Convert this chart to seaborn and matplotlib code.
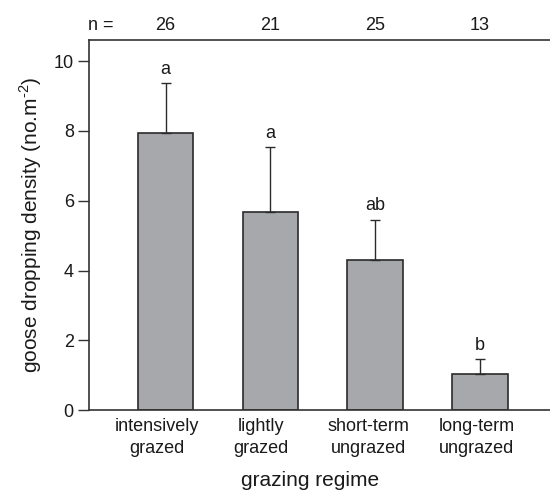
import numpy as np
import pandas as pd
import matplotlib
matplotlib.use("Agg")
import matplotlib.pyplot as plt
import matplotlib.transforms as mtransforms
import seaborn as sns

# values
regimes = ["intensively\ngrazed", "lightly\ngrazed", "short-term\nungrazed", "long-term\nungrazed"]
density = [7.95, 5.69, 4.31, 1.03]
err_top = [9.38, 7.53, 5.46, 1.46]
letters = ["a", "a", "ab", "b"]
n_obs = [26, 21, 25, 13]

sns.set_style("ticks")
plt.rcParams['font.family'] = ['Liberation Sans', 'DejaVu Sans']
plt.rcParams['mathtext.fontset'] = 'custom'
plt.rcParams['mathtext.rm'] = 'Liberation Sans'

df = pd.DataFrame({"regime": regimes, "density": density})
err = np.array(err_top) - np.array(density)
txt = "#1a1a1a"

fig = plt.figure(figsize=(5.5, 4.9), dpi=100)
ax = fig.add_axes([0.162, 0.163, 0.838, 0.755])

sns.barplot(data=df, x="regime", y="density", color="#a7a8ab", saturation=1,
            width=0.53, edgecolor="#2b2b2b", linewidth=1.2, errorbar=None, ax=ax)
ax.errorbar(range(len(density)), density, yerr=[np.zeros(len(err)), err],
            fmt="none", ecolor="#2b2b2b", elinewidth=1.0, capsize=3.3, capthick=1.0,
            zorder=1)

for i, (t, l) in enumerate(zip(err_top, letters)):
    ax.text(i, t + 0.15, l, ha="center", va="bottom", fontsize=13, color=txt)

trans = mtransforms.blended_transform_factory(ax.transData, ax.transAxes)
for i, n in enumerate(n_obs):
    ax.text(i, 1.017, str(n), transform=trans, ha="center", va="bottom",
            fontsize=13, color=txt)
ax.text(-0.615, 1.017, "n =", transform=trans, ha="center", va="bottom",
        fontsize=13, color=txt)

# category labels in the original sit a little left of the bars
ax.set_xticks(np.arange(4) + np.array([-0.08, -0.09, -0.06, -0.03]), regimes)
for lab in ax.get_xticklabels():
    lab.set_linespacing(1.35)
ax.set_xlim(-0.73, 3.67)
ax.set_ylim(0, 10.6)
ax.set_yticks([0, 2, 4, 6, 8, 10])
ax.set_xlabel("grazing regime", fontsize=15, color=txt)
ax.xaxis.set_label_coords(0.479, -0.165)
ax.set_ylabel(r"goose dropping density (no.m$^{\text{-2}}$)", fontsize=15, color=txt, labelpad=7)
ax.tick_params(axis="y", length=8, width=1.0, color="#333", labelsize=13, labelcolor=txt, pad=3)
ax.tick_params(axis="x", length=0, labelsize=13, labelcolor=txt, pad=6)
for s in ["left", "bottom", "top"]:
    ax.spines[s].set_color("#333")
    ax.spines[s].set_linewidth(1.2)
ax.spines["right"].set_visible(False)

fig.savefig("out.png", dpi=100)
